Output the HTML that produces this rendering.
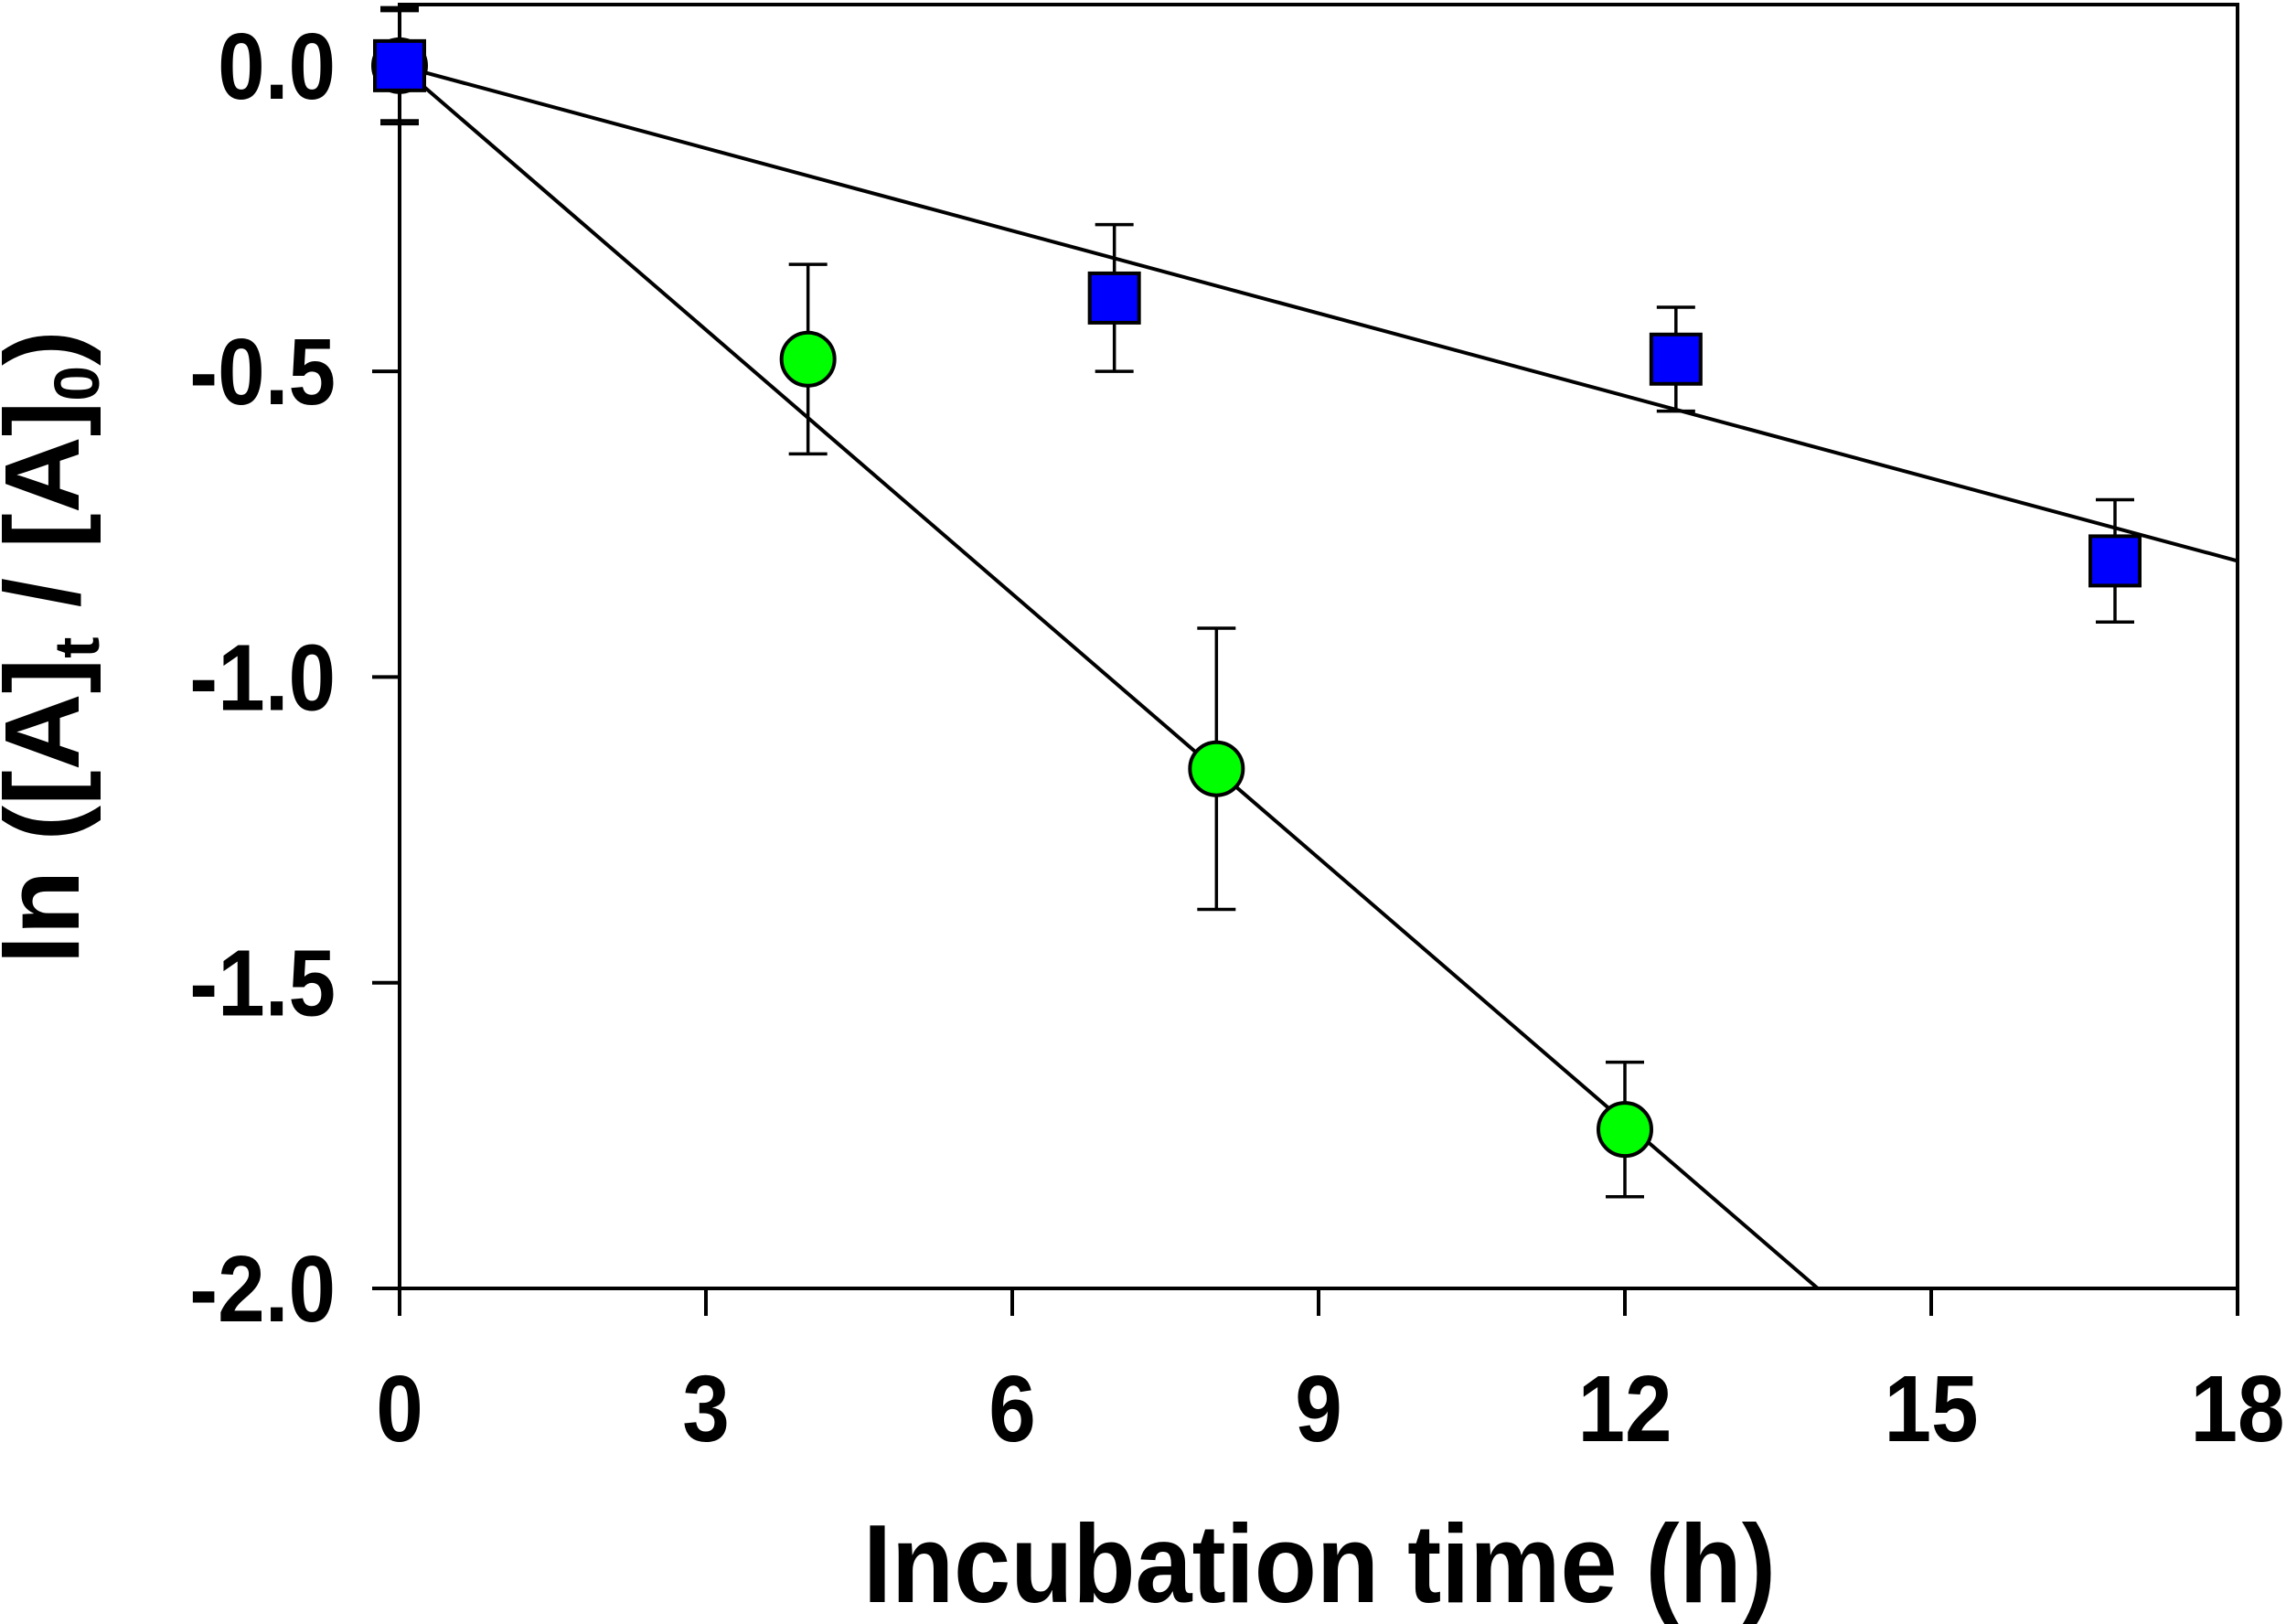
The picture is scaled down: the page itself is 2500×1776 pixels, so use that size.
<!DOCTYPE html>
<html><head><meta charset="utf-8"><style>
html,body{margin:0;padding:0;background:#fff;}
svg{display:block;font-family:"Liberation Sans",Arial,sans-serif;font-weight:bold;}
</style></head><body>
<svg id="chart" width="2500" height="1776" viewBox="0 0 2500 1776" xmlns="http://www.w3.org/2000/svg">
<g id="plot"></g>
<text x="1443" y="1752" font-size="122" text-anchor="middle" textLength="998" lengthAdjust="spacingAndGlyphs">Incubation time (h)</text>
<text transform="translate(86,708) rotate(-90)" font-size="116" text-anchor="middle">ln ([A]<tspan font-size="70" dy="22">t</tspan><tspan dy="-22"> / [A]</tspan><tspan font-size="70" dy="22">0</tspan><tspan dy="-22">)</tspan></text>
</svg>
<script>
const xTicks = [0, 3, 6, 9, 12, 15, 18];
const yTicks = [0.0, -0.5, -1.0, -1.5, -2.0];
const yTickLabels = ["0.0", "-0.5", "-1.0", "-1.5", "-2.0"];
const greenX = [0, 4, 8, 12];
const greenY = [0, -0.48, -1.15, -1.74];
const greenErr = [0.09, 0.155, 0.23, 0.11];
const blueX = [0, 7, 12.5, 16.8];
const blueY = [0, -0.38, -0.48, -0.81];
const blueErr = [0.095, 0.12, 0.085, 0.10];
const greenSlope = -0.144;
const blueSlope = -0.045;

const L = 437, R = 2447, T = 5, B = 1409;
const xMin = 0, xMax = 18, yMin = -2.0, yMax = 0.1;
const sx = v => L + (v - xMin) / (xMax - xMin) * (R - L);
const sy = v => B - (v - yMin) / (yMax - yMin) * (B - T);
const NS = "http://www.w3.org/2000/svg";
const g = document.getElementById('plot');
function mk(tag, attrs, parent) {
  const e = document.createElementNS(NS, tag);
  for (const k in attrs) e.setAttribute(k, attrs[k]);
  (parent || g).appendChild(e);
  return e;
}
const frame = mk('rect', {x: L, y: T, width: R - L, height: B - T, fill: 'none', stroke: '#000', 'stroke-width': 4});


xTicks.forEach(v => {
  const t = mk('line', {x1: sx(v), x2: sx(v), y1: B, y2: B + 30, stroke: '#000', 'stroke-width': 4});
  
  
  const lb = mk('text', {transform: 'translate(' + sx(v) + ',1576) scale(0.9,1)', 'font-size': 103, 'text-anchor': 'middle'});
  lb.textContent = String(v);
  
  
});
yTicks.forEach((v, i) => {
  const t = mk('line', {x1: L - 30, x2: L, y1: sy(v), y2: sy(v), stroke: '#000', 'stroke-width': 4});
  
  
  const lb = mk('text', {transform: 'translate(367,' + (sy(v) + 36) + ') scale(0.9,1)', 'font-size': 103, 'text-anchor': 'end'});
  lb.textContent = yTickLabels[i];
  
  
});
function fitLine(slope, name) {
  let xe = xMax, ye = slope * xMax;
  if (ye < yMin) { xe = yMin / slope; ye = yMin; }
  const l = mk('line', {x1: sx(0), y1: sy(0), x2: sx(xe), y2: sy(ye), stroke: '#000', 'stroke-width': 4});
  
  
}
fitLine(greenSlope, 'green-fit-line');
fitLine(blueSlope, 'blue-fit-line');
function errBars(xs, ys, es, name) {
  xs.forEach((x, i) => {
    const eg = mk('g', {stroke: '#000', 'stroke-width': 3.5});
    
    
    mk('line', {x1: sx(x), x2: sx(x), y1: sy(ys[i] + es[i]), y2: sy(ys[i] - es[i])}, eg);
    mk('line', {x1: sx(x) - 21, x2: sx(x) + 21, y1: sy(ys[i] + es[i]), y2: sy(ys[i] + es[i])}, eg);
    mk('line', {x1: sx(x) - 21, x2: sx(x) + 21, y1: sy(ys[i] - es[i]), y2: sy(ys[i] - es[i])}, eg);
  });
}
errBars(greenX, greenY, greenErr, 'green-error-bar');
errBars(blueX, blueY, blueErr, 'blue-error-bar');
greenX.forEach((x, i) => {
  const c = mk('circle', {cx: sx(x), cy: sy(greenY[i]), r: 29, fill: '#00ff00', stroke: '#000', 'stroke-width': 4});
  
  
});
blueX.forEach((x, i) => {
  const s = mk('rect', {x: sx(x) - 27, y: sy(blueY[i]) - 27, width: 54, height: 54, fill: '#0000ff', stroke: '#000', 'stroke-width': 4});
  
  
});
</script>
</body></html>
